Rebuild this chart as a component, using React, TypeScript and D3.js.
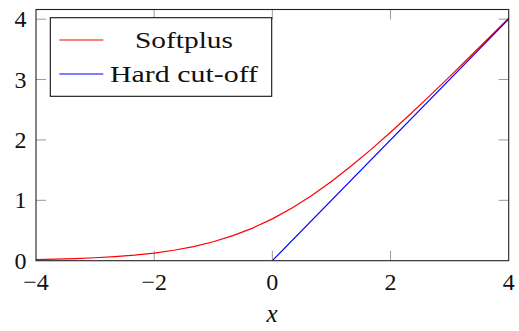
import React from "react";
import * as d3 from "d3";

// Sample points of the two activation curves
const softplusX = [
  -4, -3.667, -3.333, -3, -2.667, -2.333, -2, -1.667, -1.333, -1, -0.667, -0.333,
  0, 0.333, 0.667, 1, 1.333, 1.667, 2, 2.333, 2.667, 3, 3.333, 3.667, 4,
];
const softplusY = [
  0.0181, 0.0252, 0.0351, 0.0486, 0.0672, 0.0926, 0.1269, 0.173, 0.234, 0.3133,
  0.4144, 0.5403, 0.6931, 0.8736, 1.0811, 1.3133, 1.5673, 1.8397, 2.1269, 2.4259,
  2.7338, 3.0486, 3.3684, 3.6919, 4.0181,
];
const hardX = [0, 4];
const hardY = [0, 4];

const xTicks = [-4, -2, 0, 2, 4];
const yTicks = [0, 1, 2, 3, 4];
const seriesNames = ["Softplus", "Hard cut-off"];
const seriesColors = ["#ff0000", "#0000ff"];

const W = 519;
const H = 331;
const FONT = "'Liberation Serif', 'DejaVu Serif', serif";

export default function App() {
  const x = d3.scaleLinear().domain([-4, 4]).range([36, 508.7]);
  const y = d3.scaleLinear().domain([0, 4.16]).range([260.7, 9.5]);
  const [x0, x1] = x.range();
  const [y0, y1] = y.range();
  const tickLen = 10;
  const tickColor = "#9a9a9a";

  const line = d3
    .line<[number, number]>()
    .x((d) => x(d[0]))
    .y((d) => y(d[1]));

  const soft = softplusX.map((v, i) => [v, softplusY[i]] as [number, number]);
  const hard = hardX.map((v, i) => [v, hardY[i]] as [number, number]);

  const legend = { x: 50.3, y: 17.7, w: 221.4, h: 78.6 };
  const legendRows = [
    { lineY: 40, textY: 47.5, textX: 135, len: 98 },
    { lineY: 74, textY: 81.7, textX: 110, len: 148 },
  ];

  const txt = { fontFamily: FONT };

  return (
    <svg
      width={W}
      height={H}
      style={{ position: "absolute", left: 0, top: 0, background: "#fff" }}
    >
      <rect x={0} y={0} width={W} height={H} fill="#fff" />

      {/* tick marks on all four sides */}
      {xTicks.slice(1, -1).map((t) => (
        <g key={"xt" + t} stroke={tickColor} strokeWidth={1}>
          <line x1={x(t)} x2={x(t)} y1={y0} y2={y0 - tickLen} />
          <line x1={x(t)} x2={x(t)} y1={y1} y2={y1 + tickLen} />
        </g>
      ))}
      {yTicks.slice(1).map((t) => (
        <g key={"yt" + t} stroke={tickColor} strokeWidth={1}>
          <line x1={x0} x2={x0 + tickLen} y1={y(t)} y2={y(t)} />
          <line x1={x1} x2={x1 - tickLen} y1={y(t)} y2={y(t)} />
        </g>
      ))}

      {/* curves */}
      <path d={line(soft) ?? ""} fill="none" stroke={seriesColors[0]} strokeWidth={1.2} />
      <path d={line(hard) ?? ""} fill="none" stroke={seriesColors[1]} strokeWidth={1.2} />

      {/* axis frame */}
      <rect
        x={x0}
        y={y1}
        width={x1 - x0}
        height={y0 - y1}
        fill="none"
        stroke="#222"
        strokeWidth={1.1}
      />

      {/* tick labels */}
      {xTicks.map((t) => (
        <text key={"xl" + t} style={txt} x={x(t)} y={290} fontSize={24} textAnchor="middle" fill="#111">
          {t < 0 ? "\u2212" + Math.abs(t) : String(t)}
        </text>
      ))}
      {yTicks.map((t) => (
        <text
          key={"yl" + t}
          style={txt}
          x={26.5}
          y={y(t) + 8}
          fontSize={24}
          textAnchor="end"
          fill="#111"
        >
          {t}
        </text>
      ))}

      {/* axis title */}
      <text style={txt} x={272} y={322} fontSize={25} fontStyle="italic" textAnchor="middle" fill="#111">
        x
      </text>

      {/* legend */}
      <rect
        x={legend.x}
        y={legend.y}
        width={legend.w}
        height={legend.h}
        fill="#fff"
        stroke="#111"
        strokeWidth={1.1}
      />
      {legendRows.map((r, i) => (
        <g key={"lg" + i}>
          <line x1={59.3} x2={103.3} y1={r.lineY} y2={r.lineY} stroke={seriesColors[i]} strokeWidth={1.2} />
          <text
            style={txt}
            x={r.textX}
            y={r.textY}
            fontSize={24}
            textLength={r.len}
            lengthAdjust="spacingAndGlyphs"
            fill="#111"
          >
            {seriesNames[i]}
          </text>
        </g>
      ))}
    </svg>
  );
}
